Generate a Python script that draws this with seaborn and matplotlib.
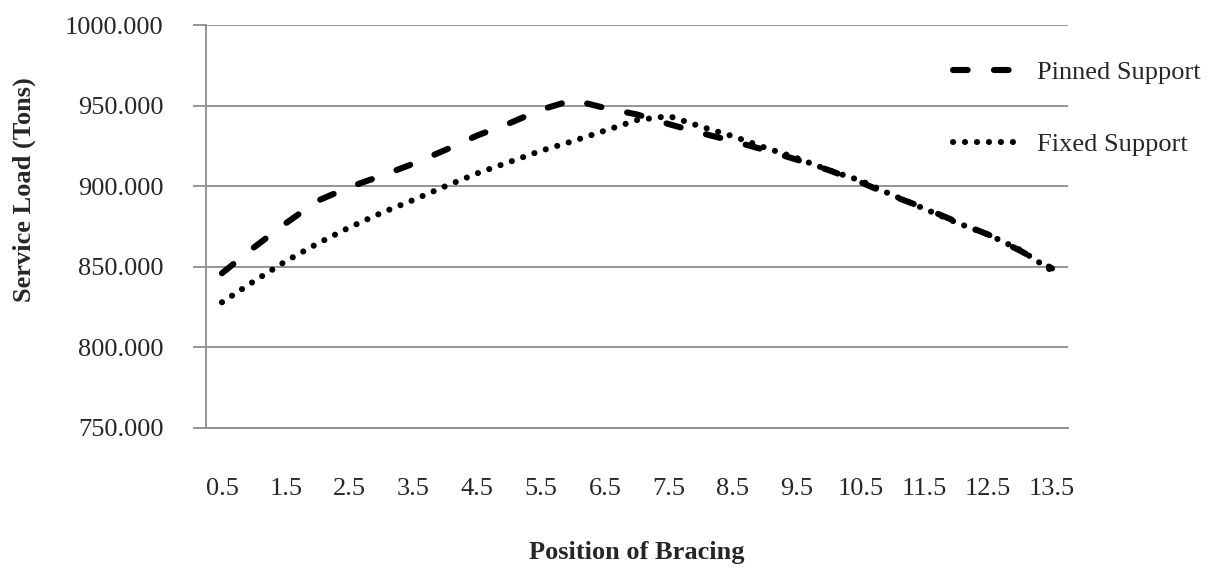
import numpy as np
import pandas as pd
import matplotlib
matplotlib.use("Agg")
import matplotlib.pyplot as plt
import seaborn as sns

# Bracing positions (half-step resolution) and service loads in tons
positions = [0.5, 1.0, 1.5, 2.0, 2.5, 3.0, 3.5, 4.0, 4.5, 5.0, 5.5, 6.0, 6.5, 7.0,
             7.5, 8.0, 8.5, 9.0, 9.5, 10.0, 10.5, 11.0, 11.5, 12.0, 12.5, 13.0, 13.5]
pinned_load = [846.0, 862.0, 877.0, 891.0, 899.5, 906.5, 914.0, 922.5, 931.5, 939.0,
               947.5, 953.5, 948.5, 944.5, 938.5, 933.0, 928.0, 922.5, 916.5, 910.0,
               902.5, 894.0, 886.5, 878.0, 870.0, 860.0, 849.0]
fixed_load = [828.0, 841.0, 853.5, 864.5, 874.5, 883.5, 891.5, 900.0, 908.0, 915.0,
              922.0, 928.0, 934.5, 941.0, 943.5, 937.0, 931.0, 924.0, 917.5, 910.0,
              903.5, 894.5, 886.0, 877.5, 870.0, 860.5, 847.5]
series_names = ["Pinned Support", "Fixed Support"]
tick_positions = [0.5, 1.5, 2.5, 3.5, 4.5, 5.5, 6.5, 7.5, 8.5, 9.5, 10.5, 11.5, 12.5, 13.5]
tick_labels = ["0.5", "1.5", "2.5", "3.5", "4.5", "5.5", "6.5", "7.5", "8.5", "9.5",
               "10.5", "11.5", "12.5", "13.5"]
y_ticks = [750, 800, 850, 900, 950, 1000]

df = pd.concat([
    pd.DataFrame({"Position": positions, "Load": pinned_load, "Support": series_names[0]}),
    pd.DataFrame({"Position": positions, "Load": fixed_load, "Support": series_names[1]}),
])

sns.set_style("white")
plt.rcParams["font.family"] = ["Liberation Serif", "DejaVu Serif"]

W, H = 1221, 570
fig = plt.figure(figsize=(W / 100, H / 100), dpi=100)
ax = fig.add_axes([206 / W, 1 - 428 / H, 862 / W, 403 / H])

grid_color = "#8c8c8c"
fs = 19

sns.lineplot(
    data=df, x="Position", y="Load", style="Support", style_order=series_names,
    dashes={"Pinned Support": (2.4, 4.3), "Fixed Support": (0.01, 1.95)},
    color="black", linewidth=4.4, dash_capstyle="round", ax=ax, legend=True,
)

ax.set_xlim(0.25, 13.75)
ax.set_ylim(750, 1000)
ax.set_xticks(tick_positions)
ax.set_xticklabels(tick_labels)
ax.set_yticks(y_ticks)
ax.set_yticklabels([f"{v:.3f}" for v in y_ticks])

ax.yaxis.grid(True, color=grid_color, linewidth=1.3)
ax.xaxis.grid(False)
ax.set_axisbelow(True)
for side in ("top", "right"):
    ax.spines[side].set_visible(False)
for side in ("left", "bottom"):
    ax.spines[side].set_color(grid_color)
    ax.spines[side].set_linewidth(1.3)

ax.tick_params(axis="y", which="both", length=9.5, width=1.3, color=grid_color,
               pad=21, labelsize=fs, left=True)
ax.tick_params(axis="x", length=0, pad=36, labelsize=fs)

ax.set_xlabel("Position of Bracing", fontsize=fs, fontweight="bold")
ax.xaxis.set_label_coords(0.5, -(541 - 428) / 403)
ax.set_ylabel("Service Load (Tons)", fontsize=fs, fontweight="bold")
ax.yaxis.set_label_coords(-(206 - 36) / 862, (428 - 190) / 403)

handles, labels = ax.get_legend_handles_labels()
ax.legend(
    handles, labels, loc="center left",
    bbox_to_anchor=(953 / W, 1 - 108.5 / H), bbox_transform=fig.transFigure,
    frameon=False, fontsize=fs, handlelength=2.4, handletextpad=0.8,
    labelspacing=1.83, borderpad=0, borderaxespad=0,
)

fig.savefig("out.png", dpi=100)
